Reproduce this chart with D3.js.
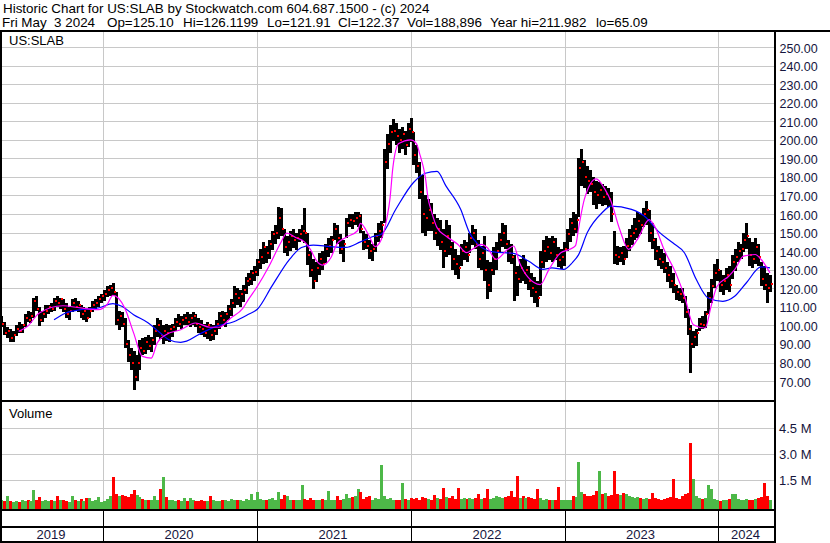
<!DOCTYPE html>
<html>
<head>
<meta charset="utf-8">
<script src="https://cdn.jsdelivr.net/npm/d3@7"></script>
<style>
    html, body { margin: 0; padding: 0; background: #fff; }
    svg { display: block; }
</style>
</head>
<body>
<div id="chart"></div>
<script>
"use strict";

// header
const titleLine = 'Historic Chart for US:SLAB by Stockwatch.com 604.687.1500 - (c) 2024';
const quoteFields = ['Fri May  3 2024', 'Op=125.10', 'Hi=126.1199', 'Lo=121.91', 'Cl=122.37', 'Vol=188,896', 'Year hi=211.982', 'lo=65.09'];
const symbol = 'US:SLAB';

// weekly bars, first week = Fri May 3 2019
const firstWeek = new Date(2019, 4, 3);
const lastDay = new Date(2024, 4, 3);

const hi = [105,102,99,98,97,100,102,101,106,108, 107,115,116,110,108,111,111,112,115,116,
    115,114,112,110,114,115,113,111,110,109, 110,113,114,116,117,119,121,122,123,118,
    108,107,104,92,88,86,84,92,93,94, 95,94,100,104,103,100,101,100,101,104,
    106,105,106,107,106,107,106,104,103,101, 102,101,100,103,107,108,107,111,114,121,
    120,119,122,126,128,130,132,136,141,145, 143,146,151,154,164,163,152,148,151,152,
    150,152,154,163,150,140,136,134,139,140, 144,147,148,155,154,149,146,158,160,160,
    161,161,160,151,149,146,144,150,155,156, 195,203,208,211,209,206,207,205,209,212,
    204,197,188,181,170,168,166,160,158,157, 152,157,154,145,141,138,144,146,145,150,
    154,152,146,143,148,135,134,142,145,150, 155,154,146,144,138,132,136,138,135,132,
    128,126,124,140,146,148,147,148,147,142, 141,145,152,158,161,160,190,195,189,186,
    184,180,178,177,176,175,174,172,151,143, 142,143,147,152,154,158,161,160,163,167,
    162,155,147,143,141,139,134,132,128,122, 120,120,116,109,100,97,98,104,105,108,
    118,125,133,136,130,127,131,132,138,141, 145,144,150,155,147,145,147,144,134,132,
    128,127];
const lo = [99,95,93,91,91,94,96,96,99,102, 101,104,108,100,102,104,106,107,108,110,
    109,107,104,103,107,108,107,104,103,102, 104,107,108,110,112,113,115,116,116,100,
    98,99,88,80,76,65,70,76,84,85, 87,86,89,94,93,90,92,91,94,97,
    99,98,100,100,99,100,99,96,95,94, 93,92,92,95,98,100,99,103,105,109,
    111,110,113,117,121,122,124,127,130,133, 134,136,141,144,147,148,139,137,140,142,
    141,145,146,144,133,126,120,123,127,130, 134,137,139,146,144,138,134,147,153,152,
    154,153,150,141,141,136,135,140,145,147, 155,184,193,199,197,193,195,192,196,199,
    186,182,168,150,148,151,151,146,143,141, 131,137,138,130,127,125,132,135,134,139,
    143,141,131,130,124,114,118,127,130,139, 142,141,134,133,113,116,123,124,122,119,
    115,112,110,116,131,134,135,134,135,131, 130,132,140,145,148,150,158,175,174,171,
    172,165,163,165,164,165,164,156,133,133, 134,133,136,140,143,146,147,149,153,154,
    145,141,135,132,130,128,123,120,117,114, 113,112,104,95,74,88,89,97,98,99,
    106,112,120,124,118,116,119,118,125,129, 134,136,140,141,132,131,133,132,121,119,
    112,118];
const cl = [101,96,97,93,95,98,97,100,104,103, 105,113,109,103,106,108,110,109,113,112,
    114,109,106,108,112,110,111,106,108,104, 108,111,112,114,116,117,119,120,118,103,
    105,101,90,84,80,72,80,88,86,91, 89,92,97,100,95,97,96,98,99,102,
    101,103,104,102,104,105,101,99,98,96, 100,95,97,101,105,103,106,109,112,117,
    115,117,119,124,125,128,129,134,137,142, 139,144,149,150,158,152,142,145,148,146,
    147,149,151,150,138,130,124,131,136,133, 141,143,146,152,147,141,144,155,157,156,
    158,159,152,145,143,140,141,148,151,154, 188,198,204,205,202,200,203,197,206,204,
    192,186,172,160,158,162,155,150,152,145, 140,148,142,136,133,131,140,142,138,147,
    150,144,136,139,130,122,130,136,140,146, 150,144,139,137,128,125,131,128,130,124,
    120,118,115,134,140,142,139,145,138,135, 137,141,149,155,152,157,185,188,180,178,
    176,172,170,173,169,171,168,160,138,137, 139,136,143,148,150,152,156,154,160,162,
    150,146,140,136,134,131,127,124,122,118, 117,115,107,98,90,94,96,101,100,106,
    115,121,128,130,122,124,127,122,134,137, 140,141,146,148,138,136,142,137,125,122,
    120,122.37];

// volume, millions (tallest daily bar of each week)
const vol = [0.35,0.3,0.6,0.3,0.25,0.3,0.28,0.4,0.3,0.35, 0.3,0.95,0.4,0.55,0.3,0.35,0.3,0.4,0.3,0.6,
    0.35,0.4,0.3,0.25,0.6,0.35,0.3,0.45,0.3,0.5, 0.5,0.3,0.35,0.55,0.25,0.3,0.45,0.6,1.71,0.7,
    0.6,0.66,0.6,0.55,0.7,0.95,0.65,0.55,0.45,0.4, 0.4,0.35,0.6,0.4,1.0,1.71,0.55,0.4,0.35,0.3,
    0.35,0.3,0.5,0.3,0.46,0.35,0.3,0.3,0.35,0.3, 0.3,0.6,0.35,0.3,0.3,0.4,0.35,0.3,0.45,0.35,
    0.35,0.4,0.3,0.45,0.35,0.7,0.4,0.85,0.45,0.4, 0.4,0.45,0.5,0.4,0.85,0.45,0.65,0.6,0.4,0.35,
    0.35,0.4,1.24,0.45,0.4,0.5,0.35,0.4,0.35,0.45, 0.4,0.9,0.4,0.35,0.6,0.4,0.45,0.7,0.5,0.55,
    0.6,1.0,0.85,0.45,0.55,0.6,0.4,0.5,0.45,2.39, 0.6,0.45,0.5,0.35,0.4,0.4,1.37,0.45,0.4,0.5,
    0.45,0.5,0.4,0.55,0.5,0.45,0.4,0.66,0.5,0.45, 1.04,0.55,0.5,0.6,0.45,1.04,0.45,0.5,0.45,0.5,
    0.45,0.5,0.7,0.45,0.5,0.98,0.45,0.5,0.6,0.55, 0.5,0.55,0.6,0.9,0.55,1.75,0.5,0.6,0.5,0.55,
    0.5,0.45,1.0,0.5,0.4,0.45,0.4,0.35,0.4,1.1, 0.4,0.35,0.35,0.4,0.6,0.55,2.54,0.85,0.7,0.6,
    0.6,0.65,0.9,2.04,0.7,0.75,0.6,0.65,2.04,0.7, 0.65,0.8,0.7,0.6,0.55,0.5,0.55,0.5,0.45,0.5,
    0.45,0.8,0.5,0.45,0.4,0.45,0.5,0.55,1.58,0.5, 0.45,0.6,0.7,0.75,3.63,1.6,0.6,0.5,0.45,0.5,
    1.24,1.0,0.45,0.4,0.3,0.35,0.4,0.45,0.7,0.73, 0.45,0.4,0.35,0.45,0.4,0.35,0.45,0.5,0.55,1.37,
    0.6,0.35];

// moving averages: week number -> value
const maFastWk = [6,9,13,21,27,33,36,38,42,45, 48,51,53,56,61,66,71,74,78,82,
    84,87,91,95,97,100,103,105,107,109, 112,114,117,121,122,125,127,129,131,132,
    133,135,139,141,142,144,145,146,148,151, 155,158,160,163,165,168,172,174,176,179,
    183,186,190,193,195,196,198,202,205,207, 210,213,216,220,222,225,229,232,235,239,
    241,243,247,249,252,256,258,261];
const maFast = [96.8,99.5,106.7,110.6,109.4,108.5,111.2,116.2,109.4,96, 83.3,82.4,90.5,95,97.7,101.3,99,99,104,109,
    114,121,132,144.7,149.7,147.4,145,141,135,132.5, 136.6,143.8,147.4,151,155,148,142.5,146,158,168,
    185,198,200,198,193,180,168,162,152.7,148.2, 143.7,139.2,141,143.7,142,135.6,141,142.8,133.8,125.7,
    122,130.2,139.2,141,143,152,168,179,173.3,167, 151.7,141,146.3,157,153,141,128.3,115.7,100.4,98.6,
    110.3,121,126.5,130,137.3,138.2,135.5,128.3];
const maSlowWk = [18,22,27,33,38,41,45,50,54,57, 61,63,67,73,79,84,87,92,98,102,
    106,112,117,122,126,129,134,140,144,148, 151,156,159,162,167,174,179,184,187,191,
    194,196,199,204,207,214,219,223,228,232, 236,240,245,249,253,258,261];
const maSlow = [103,106.7,108.5,109.4,111.7,110.3,105.8,101.3,96,92.3, 90.9,91.5,95,99.5,102,106,108.7,121.3,135.7,142,
    143.3,142.4,142,145,147.8,149,162.6,177,182,183, 175.2,162.6,150,143.5,139.6,138.8,134.7,130.2,131,130.2,
    134,138,150,160.7,164.3,162.5,158,150.8,144.5,139, 124.7,114.8,113,115.7,123,131.5,131];

// tick labels
const priceTicks = [70,80,90,100,110,120,130,140,150,160,170,180,190,200,210,220,230,240,250];
const volTicks = [1.5, 3.0, 4.5];
const yearLabels = ['2019','2020','2021','2022','2023','2024'];

const W = 830, H = 543;
const plotL = 1, plotR = 775;
const priceTop = 31;
const volBot = 510;
const GRID = '#c8c8c8';
const AXIS_TXT = '#15153d';
const FONT = 'Liberation Sans, Arial, sans-serif';

function weekDate(i) {
    return d3.timeDay.offset(firstWeek, 7 * i);
}

function label(g, x, y, str, size) {
    return g.append('text')
        .attr('x', x).attr('y', y)
        .attr('font-family', FONT)
        .attr('font-size', size || 13)
        .text(str);
}

function drawChart() {
    let svg = d3.select('#chart').append('svg')
        .attr('width', W)
        .attr('height', H)
        .attr('shape-rendering', 'crispEdges');
    svg.append('rect').attr('width', W).attr('height', H).attr('fill', '#fff');

    let x = d3.scaleTime().domain([firstWeek, lastDay]).range([1, 770]);
    let y = d3.scaleLinear().domain([70, 250]).range([381.1, 47]);
    let yv = d3.scaleLinear().domain([0, 4.5]).range([506.5, 428]);
    let yearStarts = x.ticks(d3.timeYear);
    let edges = [plotL].concat(yearStarts.map(d => Math.round(x(d))), [plotR]);

    // price grid
    svg.append('g').selectAll('line').data(priceTicks).join('line')
        .attr('x1', plotL).attr('x2', plotR)
        .attr('y1', d => Math.round(y(d)) + 0.5).attr('y2', d => Math.round(y(d)) + 0.5)
        .attr('stroke', GRID);
    // volume grid
    svg.append('g').selectAll('line').data(volTicks).join('line')
        .attr('x1', plotL).attr('x2', plotR)
        .attr('y1', d => Math.round(yv(d)) + 0.5).attr('y2', d => Math.round(yv(d)) + 0.5)
        .attr('stroke', GRID);
    // year lines
    let yl = svg.append('g');
    yearStarts.forEach(d => {
        let xx = Math.round(x(d)) + 0.5;
        yl.append('line').attr('x1', xx).attr('x2', xx).attr('y1', priceTop).attr('y2', volBot)
            .attr('stroke', GRID).attr('stroke-width', 1.5);
        yl.append('line').attr('x1', xx).attr('x2', xx).attr('y1', volBot).attr('y2', 541)
            .attr('stroke', '#000');
    });

    // price bars: black high-low first, then the red close dots on top
    let bars = svg.append('g');
    bars.selectAll('rect.hl').data(hi).join('rect')
        .attr('class', 'hl')
        .attr('x', (h, i) => Math.round(x(weekDate(i))) - 1).attr('width', 3)
        .attr('y', h => Math.round(y(h)))
        .attr('height', (h, i) => Math.max(1, Math.round(y(lo[i]) - y(h))))
        .attr('fill', '#000');
    bars.selectAll('rect.cl').data(cl).join('rect')
        .attr('class', 'cl')
        .attr('x', (c, i) => Math.round(x(weekDate(i))) + 1).attr('width', 2)
        .attr('y', c => Math.round(y(c)) - 1).attr('height', 2)
        .attr('fill', '#ff0000');

    // moving averages
    let line = d3.line().curve(d3.curveMonotoneX);
    svg.append('path')
        .attr('d', line(maSlowWk.map((w, i) => [x(weekDate(w)), y(maSlow[i])])))
        .attr('fill', 'none').attr('stroke', '#0000ff').attr('stroke-width', 1.2)
        .attr('shape-rendering', 'auto');
    svg.append('path')
        .attr('d', line(maFastWk.map((w, i) => [x(weekDate(w)), y(maFast[i])])))
        .attr('fill', 'none').attr('stroke', '#ff00ff').attr('stroke-width', 1.2)
        .attr('shape-rendering', 'auto');

    // volume bars, green up / red down
    svg.append('g').selectAll('rect').data(vol).join('rect')
        .attr('x', (d, i) => Math.round(x(weekDate(i))) - 1)
        .attr('width', 3)
        .attr('y', d => Math.round(yv(d)))
        .attr('height', d => volBot - Math.round(yv(d)))
        .attr('fill', (d, i) => (i > 0 && cl[i] < cl[i - 1]) ? '#ff0000' : '#4db848');

    // frame
    let frame = svg.append('g').attr('fill', '#000');
    frame.append('rect').attr('x', 0).attr('y', 30).attr('width', W).attr('height', 2);
    frame.append('rect').attr('x', 0).attr('y', 30).attr('width', 2).attr('height', 513);
    frame.append('rect').attr('x', 774).attr('y', 30).attr('width', 2).attr('height', 513);
    [400, 509, 526, 541].forEach(yy => {
        frame.append('rect').attr('x', 0).attr('y', yy).attr('width', 776).attr('height', 2);
    });

    // texts: 10pt header, quote fields placed at their columns
    let txt = svg.append('g').attr('shape-rendering', 'auto');
    label(txt, 3, 12.5, titleLine, 13.4);
    let fieldX = [2, 107, 183, 267, 338, 407, 490, 596];
    quoteFields.forEach((t, i) => {
        label(txt, fieldX[i], 26.5, t.replace(/ /g, '\u00a0'), 13.4);
    });
    label(txt, 9, 45, symbol);
    label(txt, 9, 418, 'Volume');

    priceTicks.forEach(d => {
        label(txt, 779.5, y(d) + 5.5, d.toFixed(2), 12.5).attr('fill', AXIS_TXT);
    });
    volTicks.forEach(d => {
        label(txt, 779, yv(d) + 5, d.toFixed(1) + ' M').attr('fill', AXIS_TXT);
    });
    yearLabels.forEach((d, i) => {
        label(txt, (edges[i] + edges[i + 1]) / 2 - 1, 539, d)
            .attr('text-anchor', 'middle')
            .attr('fill', AXIS_TXT);
    });
}

drawChart();
</script>
</body>
</html>
